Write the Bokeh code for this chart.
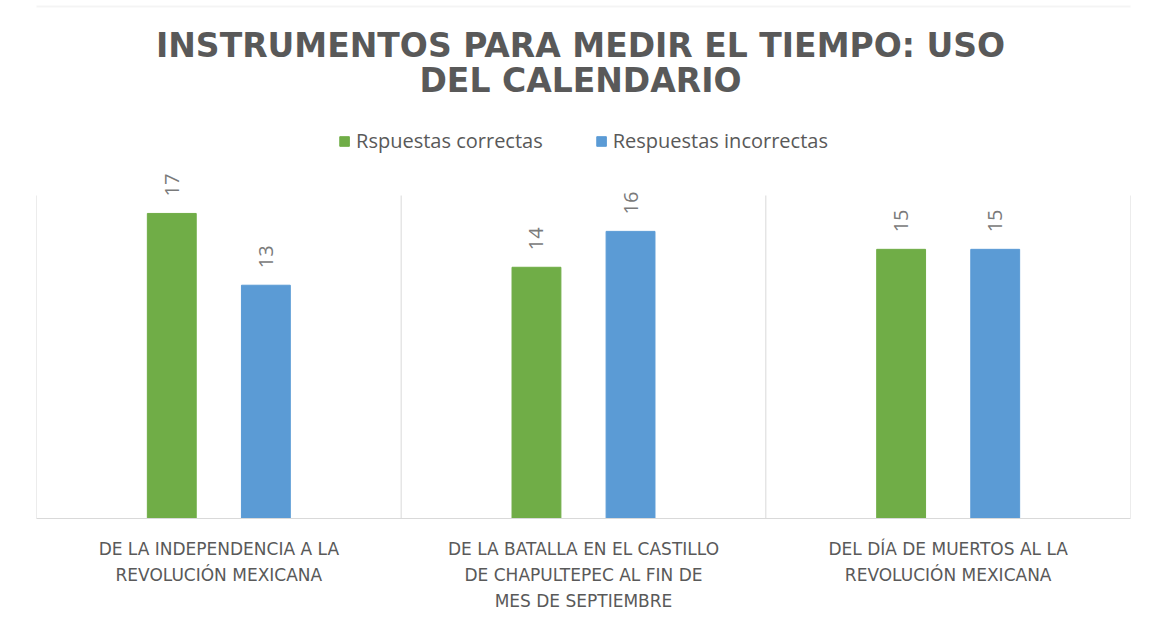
from math import pi
from bokeh.plotting import figure
from bokeh.core.properties import value
from bokeh.models import (ColumnDataSource, FactorRange, Range1d, LabelSet, Legend,
                          LegendItem, Label, BoxAnnotation)
from bokeh.transform import dodge
from bokeh.embed import file_html
from bokeh.resources import INLINE

# ---- data ----
categories = [
    "DE LA INDEPENDENCIA A LA\nREVOLUCIÓN MEXICANA",
    "DE LA BATALLA EN EL CASTILLO\nDE CHAPULTEPEC AL FIN DE\nMES DE SEPTIEMBRE",
    "DEL DÍA DE MUERTOS AL LA\nREVOLUCIÓN MEXICANA",
]
series_names = ["Rspuestas correctas", "Respuestas incorrectas"]
correctas = [17, 14, 15]
incorrectas = [13, 16, 15]
title_lines = ["INSTRUMENTOS PARA MEDIR EL TIEMPO: USO", "DEL CALENDARIO"]
y_max_grid = 18

GREEN = "#70AD47"
BLUE = "#5B9BD5"
GREY = "#595959"
LIGHT = "#d9d9d9"

FIG_W, FIG_H = 1150, 626
BORDER_L, BORDER_R, BORDER_B = 36, 20, 108
FRAME_H = FIG_H - BORDER_B          # frame spans whole top part
GRID_TOP_PX = 195                   # where the value 18 sits (from figure top)
y_end = y_max_grid * FRAME_H / (FRAME_H - GRID_TOP_PX)

src = ColumnDataSource(dict(
    cat=categories,
    correctas=correctas,
    incorrectas=incorrectas,
    correctas_txt=[str(v) for v in correctas],
    incorrectas_txt=[str(v) for v in incorrectas],
))

p = figure(
    width=FIG_W, height=FIG_H,
    x_range=FactorRange(factors=categories),
    y_range=Range1d(0, y_end),
    output_backend="svg", toolbar_location=None,
    min_border_left=BORDER_L, min_border_right=BORDER_R,
    min_border_bottom=BORDER_B, min_border_top=0,
    background_fill_color="white", border_fill_color="white",
)
p.outline_line_color = None
p.xgrid.grid_line_color = None
p.ygrid.grid_line_color = None
p.yaxis.visible = False

# outer chart border (left and top edges visible in the reference)
p.add_layout(BoxAnnotation(left=-31, right=3000, bottom=-3000, top=FRAME_H - 6,
                           left_units="screen", right_units="screen",
                           bottom_units="screen", top_units="screen",
                           fill_alpha=0, line_color=LIGHT, line_width=2, level="underlay"))

# category separators (between-category boundaries of the factor range)
bounds = list(range(len(categories) + 1))
p.segment(x0=bounds, y0=[0] * len(bounds), x1=bounds, y1=[y_max_grid] * len(bounds),
          line_color=LIGHT, line_width=1)

OFF = 0.129
W = 0.134
r1 = p.vbar(x=dodge("cat", -OFF, range=p.x_range), top="correctas", width=W,
            source=src, fill_color=GREEN, line_color=GREEN)
r2 = p.vbar(x=dodge("cat", OFF, range=p.x_range), top="incorrectas", width=W,
            source=src, fill_color=BLUE, line_color=BLUE)

for col, off in (("correctas", -OFF), ("incorrectas", OFF)):
    p.add_layout(LabelSet(
        x=dodge("cat", off, range=p.x_range), y=col, text=col + "_txt", source=src,
        angle=pi / 2, text_align="left", text_baseline="middle", y_offset=17,
        text_font=value("Open Sans"), text_font_size=value("20px"), text_color="#7a7a7a",
    ))

ax = p.xaxis[0]
ax.axis_line_color = LIGHT
ax.major_tick_line_color = None
ax.minor_tick_line_color = None
ax.major_label_text_font = "DejaVu Sans"
ax.major_label_text_font_size = "17px"
ax.major_label_text_color = GREY
ax.major_label_text_line_height = 1.3
ax.major_label_standoff = 14
ax.major_label_orientation = "horizontal"

legend = Legend(
    items=[LegendItem(label=series_names[0], renderers=[r1]),
           LegendItem(label=series_names[1], renderers=[r2])],
    orientation="horizontal", location="top_center",
    glyph_width=12, glyph_height=12, label_standoff=6, spacing=52,
    label_text_font="Open Sans", label_text_font_size="20px", label_text_color=GREY,
    label_height=20, border_line_color=None, background_fill_alpha=0,
    padding=0, margin=127,
)
p.add_layout(legend, "center")

frame_w = FIG_W - BORDER_L - BORDER_R
for line, cy in zip(title_lines, (45, 80)):
    p.add_layout(Label(x=frame_w / 2 - 3, y=FRAME_H - cy, x_units="screen", y_units="screen",
                       text=line, text_align="center", text_baseline="middle",
                       text_font="DejaVu Sans", text_font_style="bold",
                       text_font_size="33px", text_color=GREY))

open("out.html", "w").write(file_html(p, INLINE))
